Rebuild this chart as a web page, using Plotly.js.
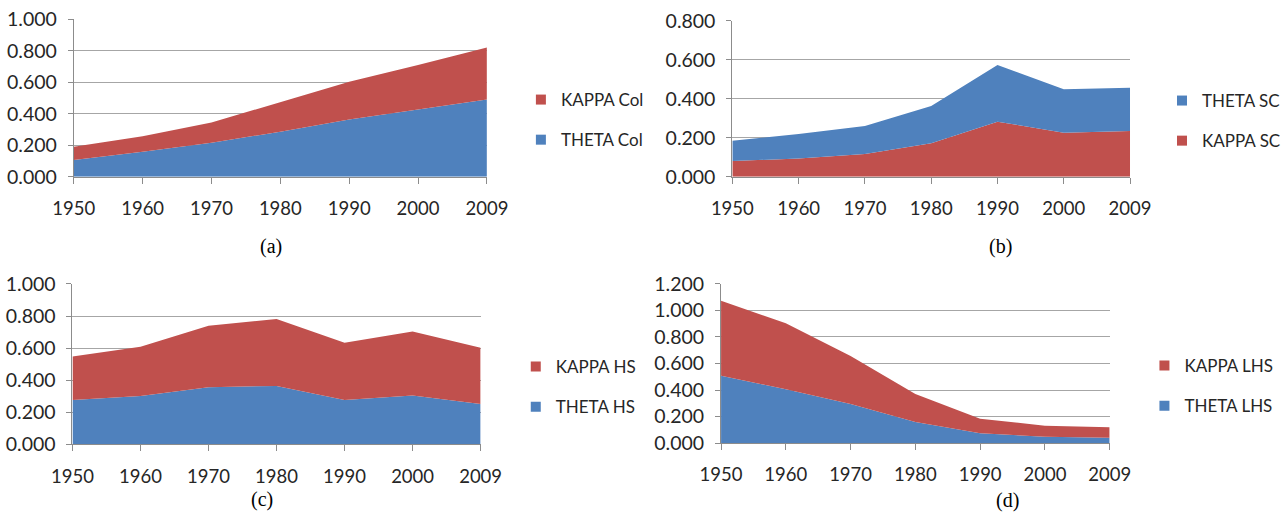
<!DOCTYPE html>
<html>
<head>
<meta charset="utf-8">
<script src="https://cdn.plot.ly/plotly-3.0.1.min.js"></script>
<style>html,body{margin:0;padding:0;background:#fff;}#chart{width:1286px;height:514px;}</style>
</head>
<body>
<div id="chart"></div>
<script>
// ---- data ----
const years = ['1950', '1960', '1970', '1980', '1990', '2000', '2009'];

const thetaCol = [0.106, 0.158, 0.216, 0.286, 0.363, 0.427, 0.490];
const kappaCol = [0.084, 0.099, 0.128, 0.190, 0.241, 0.283, 0.330];

const kappaSC = [0.080, 0.094, 0.116, 0.171, 0.282, 0.226, 0.234];
const thetaSC = [0.105, 0.125, 0.144, 0.191, 0.291, 0.222, 0.222];

const thetaHS = [0.277, 0.301, 0.356, 0.364, 0.277, 0.304, 0.252];
const kappaHS = [0.270, 0.308, 0.384, 0.418, 0.357, 0.399, 0.351];

const thetaLHS = [0.508, 0.405, 0.294, 0.158, 0.073, 0.048, 0.040];
const kappaLHS = [0.566, 0.498, 0.363, 0.212, 0.111, 0.083, 0.078];

const captions = ['(a)', '(b)', '(c)', '(d)'];

// ---- styling ----
const BLUE = '#4F81BD';
const RED = '#C0504D';
const FONT = 'Lato, "Open Sans", sans-serif';
const GRID = '#a6a6a6';
const AXIS = '#8c8c8c';
const TXT = '#262626';

function area(y, name, color, xa, ya, group) {
  return {
    x: years, y: y, name: name, type: 'scatter', mode: 'lines',
    stackgroup: group, line: {width: 0, color: color}, fillcolor: color,
    xaxis: xa, yaxis: ya, showlegend: false, hoverinfo: 'x+y+name'
  };
}
function legendItem(name, color, xa, ya, legend) {
  return {
    x: [years[0]], y: [null], name: name, type: 'scatter', mode: 'markers',
    marker: {symbol: 'square', size: 10, color: color},
    xaxis: xa, yaxis: ya, legend: legend, legendgroup: name, showlegend: true
  };
}

const traces = [
  area(thetaCol, 'THETA Col', BLUE, 'x', 'y', 'a'),
  area(kappaCol, 'KAPPA Col', RED, 'x', 'y', 'a'),
  area(kappaSC, 'KAPPA SC', RED, 'x2', 'y2', 'b'),
  area(thetaSC, 'THETA SC', BLUE, 'x2', 'y2', 'b'),
  area(thetaHS, 'THETA HS', BLUE, 'x3', 'y3', 'c'),
  area(kappaHS, 'KAPPA HS', RED, 'x3', 'y3', 'c'),
  area(thetaLHS, 'THETA LHS', BLUE, 'x4', 'y4', 'd'),
  area(kappaLHS, 'KAPPA LHS', RED, 'x4', 'y4', 'd'),
  legendItem('KAPPA Col', RED, 'x', 'y', 'legend'),
  legendItem('THETA Col', BLUE, 'x', 'y', 'legend'),
  legendItem('THETA SC', BLUE, 'x2', 'y2', 'legend2'),
  legendItem('KAPPA SC', RED, 'x2', 'y2', 'legend2'),
  legendItem('KAPPA HS', RED, 'x3', 'y3', 'legend3'),
  legendItem('THETA HS', BLUE, 'x3', 'y3', 'legend3'),
  legendItem('KAPPA LHS', RED, 'x4', 'y4', 'legend4'),
  legendItem('THETA LHS', BLUE, 'x4', 'y4', 'legend4')
];

function xaxis(domain, anchor) {
  return {
    domain: domain, anchor: anchor, type: 'category', range: [0, 6],
    showgrid: false, zeroline: false, showline: true, linecolor: AXIS, linewidth: 1,
    ticks: 'outside', ticklen: 6, tickcolor: AXIS, tickwidth: 1,
    tickfont: {family: FONT, size: 18.5, color: TXT}, ticklabelstandoff: 9,
    fixedrange: true
  };
}
function yaxis(domain, anchor, max) {
  return {
    domain: domain, anchor: anchor, range: [0, max], dtick: 0.2, tick0: 0,
    tickformat: '.3f', showgrid: true, gridcolor: GRID, gridwidth: 1,
    zeroline: false, showline: true, linecolor: AXIS, linewidth: 1,
    ticks: 'outside', ticklen: 5, tickcolor: AXIS,
    tickfont: {family: FONT, size: 19.5, color: TXT}, ticklabelstandoff: 7,
    fixedrange: true
  };
}
function legend(x, y) {
  return {
    x: x, y: y, xanchor: 'left', yanchor: 'middle', xref: 'paper', yref: 'paper',
    bgcolor: 'rgba(0,0,0,0)', borderwidth: 0,
    font: {family: FONT, size: 17, color: TXT},
    traceorder: 'grouped', tracegroupgap: 15, itemclick: false, itemdoubleclick: false
  };
}
function caption(text, x, y, anchor) {
  return {
    text: text, x: x, y: y, xref: 'paper', yref: 'paper',
    xanchor: 'center', yanchor: anchor, showarrow: false, borderpad: 0,
    font: {family: '"Liberation Serif", "Times New Roman", serif', size: 20, color: '#000'}
  };
}

const layout = {
  width: 1286, height: 514,
  margin: {l: 0, r: 0, t: 0, b: 0},
  paper_bgcolor: '#ffffff', plot_bgcolor: '#ffffff',
  font: {family: FONT, color: TXT},
  xaxis: xaxis([0.0575, 0.3795], 'y'),
  yaxis: yaxis([0.6562, 0.9625], 'x', 1.0),
  xaxis2: xaxis([0.5708, 0.8808], 'y2'),
  yaxis2: yaxis([0.6562, 0.9597], 'x2', 0.8),
  xaxis3: xaxis([0.0565, 0.3746], 'y3'),
  yaxis3: yaxis([0.1356, 0.4475], 'x3', 1.0),
  xaxis4: xaxis([0.5620, 0.8649], 'y4'),
  yaxis4: yaxis([0.1381, 0.4475], 'x4', 1.2),
  legend: legend(0.4060, 0.7665),
  legend2: legend(0.9060, 0.7646),
  legend3: legend(0.4020, 0.2471),
  legend4: legend(0.8920, 0.2490),
  annotations: [
    caption(captions[0], 0.2115, 0.5214, 'middle'),
    caption(captions[1], 0.7799, 0.5214, 'middle'),
    caption(captions[2], 0.2045, 0.004, 'bottom'),
    caption(captions[3], 0.7854, 0.002, 'bottom')
  ],
  showlegend: true
};

Plotly.newPlot('chart', traces, layout, {displayModeBar: false, staticPlot: true});
</script>
</body>
</html>
